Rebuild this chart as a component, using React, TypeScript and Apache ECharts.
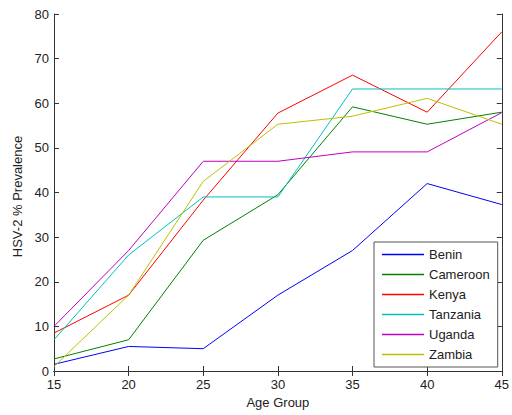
import React, { useEffect, useRef } from "react";
import * as echarts from "echarts";

const ages = [15, 20, 25, 30, 35, 40, 45];
const countries = ["Benin", "Cameroon", "Kenya", "Tanzania", "Uganda", "Zambia"];
const benin = [1.5, 5.5, 5, 17, 27, 42, 37.3];
const cameroon = [2.7, 7, 29.3, 39.5, 59.2, 55.3, 58];
const kenya = [8.5, 17, 38.3, 57.8, 66.3, 58, 76];
const tanzania = [7, 26, 39, 39, 63.2, 63.2, 63.2];
const uganda = [10, 27, 47, 47, 49.1, 49.1, 57.9];
const zambia = [1, 17, 42.5, 55.3, 57.1, 61.1, 55.3];
const colors = ["#0000ff", "#008000", "#ff0000", "#00bfbf", "#bf00bf", "#bfbf00"];
const allSeries = [benin, cameroon, kenya, tanzania, uganda, zambia];

export default function App() {
  const ref = useRef<HTMLDivElement>(null);
  useEffect(() => {
    const chart = echarts.init(ref.current!, null, { renderer: "svg" });
    const font = "'Liberation Sans', Arial, sans-serif";
    const axisCommon = {
      axisLine: { show: true, lineStyle: { color: "#333", width: 1 } },
      axisTick: { show: true, inside: true, length: 5, lineStyle: { color: "#333" } },
      splitLine: { show: false },
    };
    chart.setOption({
      animation: false,
      backgroundColor: "#fff",
      textStyle: { fontFamily: font },
      grid: { left: 54, right: 6, top: 14, bottom: 44, containLabel: false },
      legend: {
        orient: "vertical",
        left: 374,
        top: 242,
        data: countries,
        icon: "rect",
        itemWidth: 42,
        itemHeight: 1.5,
        itemGap: 5,
        padding: [5, 8],
        backgroundColor: "#fff",
        borderColor: "#555",
        borderWidth: 1,
        textStyle: { fontSize: 13, color: "#222", fontFamily: font, lineHeight: 15 },
      },
      xAxis: [
        {
          type: "value",
          min: 15,
          max: 45,
          interval: 5,
          name: "Age Group",
          nameLocation: "middle",
          nameGap: 23,
          nameTextStyle: { fontSize: 13, color: "#222" },
          axisLabel: { fontSize: 13, color: "#222", margin: 7 },
          ...axisCommon,
        },
        {
          type: "value",
          position: "top",
          min: 15,
          max: 45,
          interval: 5,
          axisLabel: { show: false },
          ...axisCommon,
        },
      ],
      yAxis: [
        {
          type: "value",
          min: 0,
          max: 80,
          interval: 10,
          name: "HSV-2 % Prevalence",
          nameLocation: "middle",
          nameGap: 26,
          nameTextStyle: { fontSize: 13, color: "#222", padding: [0, 8, 0, 0] },
          axisLabel: { fontSize: 13, color: "#222", margin: 5 },
          ...axisCommon,
        },
        {
          type: "value",
          position: "right",
          min: 0,
          max: 80,
          interval: 10,
          axisLabel: { show: false },
          ...axisCommon,
        },
      ],
      series: countries.map((name, i) => ({
        name,
        type: "line",
        xAxisIndex: 0,
        yAxisIndex: 0,
        symbol: "none",
        color: colors[i],
        lineStyle: { width: 1, color: colors[i] },
        data: ages.map((a, j) => [a, allSeries[i][j]]),
      })),
    });
    return () => chart.dispose();
  }, []);
  return <div ref={ref} style={{ width: 512, height: 415, position: "absolute", left: 0, top: 0 }} />;
}
